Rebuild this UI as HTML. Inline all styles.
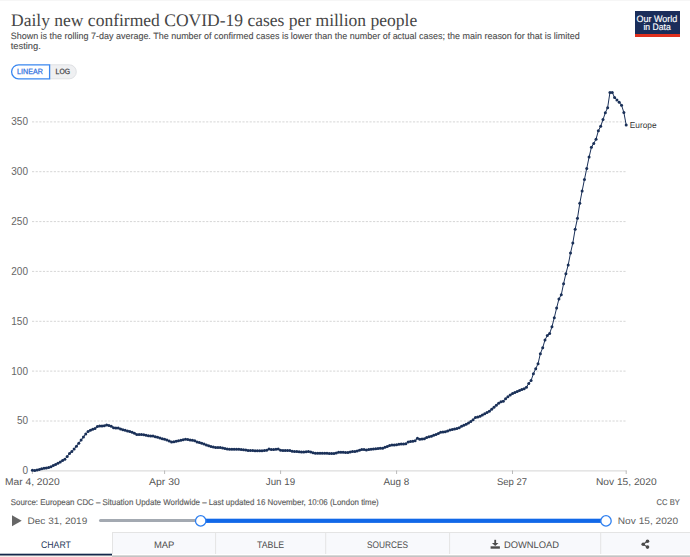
<!DOCTYPE html>
<html><head><meta charset="utf-8"><style>
html,body{margin:0;padding:0;background:#fff;}
body{width:690px;height:557px;overflow:hidden;position:relative;}
svg{position:absolute;left:0;top:0;}
text{text-rendering:geometricPrecision;}
.yl text{text-rendering:auto;}
</style></head><body>
<svg width="690" height="557" viewBox="0 0 690 557">
<rect x="0" y="0" width="690" height="1" fill="#f6f6f6"/>
<!-- toggle -->
<path d="M49.5,64.8 H69.3 a7,7 0 0 1 0,14 H49.5 Z" fill="#eff0f2" stroke="#dfe1e4" stroke-width="1"/>
<path d="M18.6,64.8 H49.6 V78.8 H18.6 a7,7 0 0 1 0,-14 Z" fill="#fff" stroke="#3a87f0" stroke-width="1.3"/>
<text x="17.1" y="74.4" font-family="'Liberation Sans', sans-serif" font-size="7.6" fill="#2f6fde" textLength="25.7" lengthAdjust="spacingAndGlyphs" stroke="#2f6fde" stroke-width="0.25">LINEAR</text>
<text x="55.6" y="74.4" font-family="'Liberation Sans', sans-serif" font-size="7.6" fill="#444" textLength="14.5" lengthAdjust="spacingAndGlyphs" stroke="#444" stroke-width="0.25">LOG</text>
<!-- logo -->
<rect x="635" y="11" width="45" height="26" fill="#1a2d5a"/>
<rect x="635" y="34" width="45" height="3" fill="#e0301e"/>
<g font-family="'Liberation Sans', sans-serif" font-size="9.3" fill="#fff" stroke="#fff" stroke-width="0.15" lengthAdjust="spacingAndGlyphs"><text x="636.6" y="21.5" textLength="40.7" lengthAdjust="spacingAndGlyphs">Our World</text><text x="643.4" y="30.4" textLength="27.3" lengthAdjust="spacingAndGlyphs">in Data</text></g>
<!-- chart -->
<g stroke="#d6d6d6" stroke-width="1" stroke-dasharray="2.2,1.428" fill="none"><line x1="32" x2="626" y1="421.0" y2="421.0"/><line x1="32" x2="626" y1="371.1" y2="371.1"/><line x1="32" x2="626" y1="321.3" y2="321.3"/><line x1="32" x2="626" y1="271.4" y2="271.4"/><line x1="32" x2="626" y1="221.6" y2="221.6"/><line x1="32" x2="626" y1="171.7" y2="171.7"/><line x1="32" x2="626" y1="121.9" y2="121.9"/></g>
<line x1="32.4" x2="626.5" y1="470.9" y2="470.9" stroke="#ddd" stroke-width="1.3"/>
<g stroke="#aaa" stroke-width="0.8"><line x1="32.4" x2="32.4" y1="470.5" y2="474"/><line x1="164.6" x2="164.6" y1="470.5" y2="474"/><line x1="280.6" x2="280.6" y1="470.5" y2="474"/><line x1="396.6" x2="396.6" y1="470.5" y2="474"/><line x1="512.5" x2="512.5" y1="470.5" y2="474"/><line x1="626.2" x2="626.2" y1="470.5" y2="474"/></g>
<g class="yl" font-family="'Liberation Sans', sans-serif" font-size="10" fill="#666" text-anchor="end"><text x="28" y="474.2">0</text><text x="28" y="424.4">50</text><text x="28" y="374.5">100</text><text x="28" y="324.7">150</text><text x="28" y="274.8">200</text><text x="28" y="225.0">250</text><text x="28" y="175.1">300</text><text x="28" y="125.3">350</text></g>
<path d="M32.40,470.24 L34.72,470.38 L37.04,470.12 L39.36,469.39 L41.68,468.86 L44.00,468.35 L46.32,468.00 L48.64,467.57 L50.96,466.79 L53.28,465.42 L55.59,464.54 L57.91,463.14 L60.23,461.93 L62.55,460.47 L64.87,459.18 L67.19,456.44 L69.51,453.50 L71.83,451.54 L74.15,448.93 L76.47,446.32 L78.79,443.21 L81.11,440.12 L83.43,436.95 L85.75,434.00 L88.07,431.59 L90.39,430.21 L92.71,429.21 L95.03,428.56 L97.35,426.50 L99.67,425.90 L101.99,425.90 L104.30,425.74 L106.62,424.93 L108.94,425.53 L111.26,426.35 L113.58,427.85 L115.90,428.10 L118.22,428.10 L120.54,428.97 L122.86,429.66 L125.18,430.31 L127.50,430.92 L129.82,431.49 L132.14,432.22 L134.46,433.14 L136.78,434.60 L139.10,434.60 L141.42,434.60 L143.74,434.71 L146.06,435.21 L148.38,435.65 L150.69,435.90 L153.01,435.93 L155.33,436.64 L157.65,437.31 L159.97,438.00 L162.29,438.79 L164.61,439.33 L166.93,440.05 L169.25,441.06 L171.57,442.01 L173.89,441.64 L176.21,441.23 L178.53,440.79 L180.85,440.21 L183.17,439.66 L185.49,439.30 L187.81,439.41 L190.13,440.07 L192.45,440.20 L194.77,440.71 L197.08,441.93 L199.40,442.55 L201.72,443.25 L204.04,444.08 L206.36,445.02 L208.68,445.77 L211.00,446.45 L213.32,447.10 L215.64,447.39 L217.96,447.50 L220.28,447.60 L222.60,448.11 L224.92,448.62 L227.24,449.03 L229.56,449.30 L231.88,449.30 L234.20,449.30 L236.52,449.30 L238.84,449.30 L241.16,449.54 L243.47,449.80 L245.79,450.03 L248.11,450.38 L250.43,450.50 L252.75,450.54 L255.07,450.68 L257.39,450.70 L259.71,450.70 L262.03,450.63 L264.35,450.50 L266.67,450.17 L268.99,449.12 L271.31,449.56 L273.63,449.60 L275.95,449.28 L278.27,449.05 L280.59,450.34 L282.91,450.40 L285.23,450.40 L287.55,450.40 L289.86,450.58 L292.18,451.17 L294.50,451.50 L296.82,451.55 L299.14,451.76 L301.46,451.97 L303.78,452.01 L306.10,451.79 L308.42,451.54 L310.74,451.96 L313.06,452.64 L315.38,453.20 L317.70,453.20 L320.02,453.20 L322.34,453.20 L324.66,453.21 L326.98,453.30 L329.30,453.38 L331.62,453.40 L333.94,453.40 L336.25,453.04 L338.57,452.30 L340.89,452.30 L343.21,452.32 L345.53,452.43 L347.85,452.39 L350.17,452.10 L352.49,451.59 L354.81,451.50 L357.13,451.05 L359.45,450.23 L361.77,449.51 L364.09,449.38 L366.41,449.88 L368.73,449.48 L371.05,449.17 L373.37,448.97 L375.69,448.83 L378.01,448.46 L380.32,448.20 L382.64,448.18 L384.96,447.32 L387.28,446.39 L389.60,445.55 L391.92,445.00 L394.24,445.00 L396.56,444.68 L398.88,444.28 L401.20,443.90 L403.52,443.90 L405.84,443.67 L408.16,442.04 L410.48,441.53 L412.80,441.30 L415.12,440.82 L417.44,438.34 L419.76,439.28 L422.08,439.05 L424.40,438.65 L426.71,437.60 L429.03,436.69 L431.35,436.24 L433.67,435.30 L435.99,434.50 L438.31,433.61 L440.63,432.35 L442.95,431.88 L445.27,431.64 L447.59,431.10 L449.91,429.94 L452.23,429.40 L454.55,429.01 L456.87,428.48 L459.19,427.70 L461.51,426.33 L463.83,425.31 L466.15,424.23 L468.47,422.95 L470.79,421.38 L473.11,419.69 L475.42,417.40 L477.74,416.97 L480.06,416.32 L482.38,415.10 L484.70,413.82 L487.02,412.61 L489.34,411.23 L491.66,409.36 L493.98,407.33 L496.30,405.19 L498.62,403.19 L500.94,401.75 L503.26,401.23 L505.58,398.83 L507.90,396.68 L510.22,395.06 L512.54,393.56 L514.86,392.48 L517.18,391.52 L519.50,390.51 L521.81,389.50 L524.13,388.77 L526.45,387.17 L528.77,383.58 L531.09,380.51 L533.41,373.74 L535.73,368.77 L538.05,363.67 L540.37,353.65 L542.69,347.82 L545.01,339.89 L547.33,335.59 L549.65,333.44 L551.97,326.80 L554.29,317.66 L556.61,308.11 L558.93,298.96 L561.25,294.83 L563.57,283.72 L565.88,273.66 L568.20,264.98 L570.52,253.06 L572.84,242.92 L575.16,229.13 L577.48,218.22 L579.80,203.24 L582.12,191.09 L584.44,179.50 L586.76,168.40 L589.08,157.10 L591.40,147.37 L593.72,143.50 L596.04,139.15 L598.36,130.77 L600.68,126.37 L603.00,119.59 L605.32,112.79 L607.64,107.68 L609.96,92.40 L612.27,92.40 L614.59,97.59 L616.91,99.91 L619.23,102.23 L621.55,105.26 L623.87,112.48 L626.19,125.00" fill="none" stroke="#1a3058" stroke-width="1.0" stroke-linejoin="round"/>
<g fill="#1a3058"><circle cx="32.40" cy="470.24" r="1.5"/><circle cx="34.72" cy="470.38" r="1.5"/><circle cx="37.04" cy="470.12" r="1.5"/><circle cx="39.36" cy="469.39" r="1.5"/><circle cx="41.68" cy="468.86" r="1.5"/><circle cx="44.00" cy="468.35" r="1.5"/><circle cx="46.32" cy="468.00" r="1.5"/><circle cx="48.64" cy="467.57" r="1.5"/><circle cx="50.96" cy="466.79" r="1.5"/><circle cx="53.28" cy="465.42" r="1.5"/><circle cx="55.59" cy="464.54" r="1.5"/><circle cx="57.91" cy="463.14" r="1.5"/><circle cx="60.23" cy="461.93" r="1.5"/><circle cx="62.55" cy="460.47" r="1.5"/><circle cx="64.87" cy="459.18" r="1.5"/><circle cx="67.19" cy="456.44" r="1.5"/><circle cx="69.51" cy="453.50" r="1.5"/><circle cx="71.83" cy="451.54" r="1.5"/><circle cx="74.15" cy="448.93" r="1.5"/><circle cx="76.47" cy="446.32" r="1.5"/><circle cx="78.79" cy="443.21" r="1.5"/><circle cx="81.11" cy="440.12" r="1.5"/><circle cx="83.43" cy="436.95" r="1.5"/><circle cx="85.75" cy="434.00" r="1.5"/><circle cx="88.07" cy="431.59" r="1.5"/><circle cx="90.39" cy="430.21" r="1.5"/><circle cx="92.71" cy="429.21" r="1.5"/><circle cx="95.03" cy="428.56" r="1.5"/><circle cx="97.35" cy="426.50" r="1.5"/><circle cx="99.67" cy="425.90" r="1.5"/><circle cx="101.99" cy="425.90" r="1.5"/><circle cx="104.30" cy="425.74" r="1.5"/><circle cx="106.62" cy="424.93" r="1.5"/><circle cx="108.94" cy="425.53" r="1.5"/><circle cx="111.26" cy="426.35" r="1.5"/><circle cx="113.58" cy="427.85" r="1.5"/><circle cx="115.90" cy="428.10" r="1.5"/><circle cx="118.22" cy="428.10" r="1.5"/><circle cx="120.54" cy="428.97" r="1.5"/><circle cx="122.86" cy="429.66" r="1.5"/><circle cx="125.18" cy="430.31" r="1.5"/><circle cx="127.50" cy="430.92" r="1.5"/><circle cx="129.82" cy="431.49" r="1.5"/><circle cx="132.14" cy="432.22" r="1.5"/><circle cx="134.46" cy="433.14" r="1.5"/><circle cx="136.78" cy="434.60" r="1.5"/><circle cx="139.10" cy="434.60" r="1.5"/><circle cx="141.42" cy="434.60" r="1.5"/><circle cx="143.74" cy="434.71" r="1.5"/><circle cx="146.06" cy="435.21" r="1.5"/><circle cx="148.38" cy="435.65" r="1.5"/><circle cx="150.69" cy="435.90" r="1.5"/><circle cx="153.01" cy="435.93" r="1.5"/><circle cx="155.33" cy="436.64" r="1.5"/><circle cx="157.65" cy="437.31" r="1.5"/><circle cx="159.97" cy="438.00" r="1.5"/><circle cx="162.29" cy="438.79" r="1.5"/><circle cx="164.61" cy="439.33" r="1.5"/><circle cx="166.93" cy="440.05" r="1.5"/><circle cx="169.25" cy="441.06" r="1.5"/><circle cx="171.57" cy="442.01" r="1.5"/><circle cx="173.89" cy="441.64" r="1.5"/><circle cx="176.21" cy="441.23" r="1.5"/><circle cx="178.53" cy="440.79" r="1.5"/><circle cx="180.85" cy="440.21" r="1.5"/><circle cx="183.17" cy="439.66" r="1.5"/><circle cx="185.49" cy="439.30" r="1.5"/><circle cx="187.81" cy="439.41" r="1.5"/><circle cx="190.13" cy="440.07" r="1.5"/><circle cx="192.45" cy="440.20" r="1.5"/><circle cx="194.77" cy="440.71" r="1.5"/><circle cx="197.08" cy="441.93" r="1.5"/><circle cx="199.40" cy="442.55" r="1.5"/><circle cx="201.72" cy="443.25" r="1.5"/><circle cx="204.04" cy="444.08" r="1.5"/><circle cx="206.36" cy="445.02" r="1.5"/><circle cx="208.68" cy="445.77" r="1.5"/><circle cx="211.00" cy="446.45" r="1.5"/><circle cx="213.32" cy="447.10" r="1.5"/><circle cx="215.64" cy="447.39" r="1.5"/><circle cx="217.96" cy="447.50" r="1.5"/><circle cx="220.28" cy="447.60" r="1.5"/><circle cx="222.60" cy="448.11" r="1.5"/><circle cx="224.92" cy="448.62" r="1.5"/><circle cx="227.24" cy="449.03" r="1.5"/><circle cx="229.56" cy="449.30" r="1.5"/><circle cx="231.88" cy="449.30" r="1.5"/><circle cx="234.20" cy="449.30" r="1.5"/><circle cx="236.52" cy="449.30" r="1.5"/><circle cx="238.84" cy="449.30" r="1.5"/><circle cx="241.16" cy="449.54" r="1.5"/><circle cx="243.47" cy="449.80" r="1.5"/><circle cx="245.79" cy="450.03" r="1.5"/><circle cx="248.11" cy="450.38" r="1.5"/><circle cx="250.43" cy="450.50" r="1.5"/><circle cx="252.75" cy="450.54" r="1.5"/><circle cx="255.07" cy="450.68" r="1.5"/><circle cx="257.39" cy="450.70" r="1.5"/><circle cx="259.71" cy="450.70" r="1.5"/><circle cx="262.03" cy="450.63" r="1.5"/><circle cx="264.35" cy="450.50" r="1.5"/><circle cx="266.67" cy="450.17" r="1.5"/><circle cx="268.99" cy="449.12" r="1.5"/><circle cx="271.31" cy="449.56" r="1.5"/><circle cx="273.63" cy="449.60" r="1.5"/><circle cx="275.95" cy="449.28" r="1.5"/><circle cx="278.27" cy="449.05" r="1.5"/><circle cx="280.59" cy="450.34" r="1.5"/><circle cx="282.91" cy="450.40" r="1.5"/><circle cx="285.23" cy="450.40" r="1.5"/><circle cx="287.55" cy="450.40" r="1.5"/><circle cx="289.86" cy="450.58" r="1.5"/><circle cx="292.18" cy="451.17" r="1.5"/><circle cx="294.50" cy="451.50" r="1.5"/><circle cx="296.82" cy="451.55" r="1.5"/><circle cx="299.14" cy="451.76" r="1.5"/><circle cx="301.46" cy="451.97" r="1.5"/><circle cx="303.78" cy="452.01" r="1.5"/><circle cx="306.10" cy="451.79" r="1.5"/><circle cx="308.42" cy="451.54" r="1.5"/><circle cx="310.74" cy="451.96" r="1.5"/><circle cx="313.06" cy="452.64" r="1.5"/><circle cx="315.38" cy="453.20" r="1.5"/><circle cx="317.70" cy="453.20" r="1.5"/><circle cx="320.02" cy="453.20" r="1.5"/><circle cx="322.34" cy="453.20" r="1.5"/><circle cx="324.66" cy="453.21" r="1.5"/><circle cx="326.98" cy="453.30" r="1.5"/><circle cx="329.30" cy="453.38" r="1.5"/><circle cx="331.62" cy="453.40" r="1.5"/><circle cx="333.94" cy="453.40" r="1.5"/><circle cx="336.25" cy="453.04" r="1.5"/><circle cx="338.57" cy="452.30" r="1.5"/><circle cx="340.89" cy="452.30" r="1.5"/><circle cx="343.21" cy="452.32" r="1.5"/><circle cx="345.53" cy="452.43" r="1.5"/><circle cx="347.85" cy="452.39" r="1.5"/><circle cx="350.17" cy="452.10" r="1.5"/><circle cx="352.49" cy="451.59" r="1.5"/><circle cx="354.81" cy="451.50" r="1.5"/><circle cx="357.13" cy="451.05" r="1.5"/><circle cx="359.45" cy="450.23" r="1.5"/><circle cx="361.77" cy="449.51" r="1.5"/><circle cx="364.09" cy="449.38" r="1.5"/><circle cx="366.41" cy="449.88" r="1.5"/><circle cx="368.73" cy="449.48" r="1.5"/><circle cx="371.05" cy="449.17" r="1.5"/><circle cx="373.37" cy="448.97" r="1.5"/><circle cx="375.69" cy="448.83" r="1.5"/><circle cx="378.01" cy="448.46" r="1.5"/><circle cx="380.32" cy="448.20" r="1.5"/><circle cx="382.64" cy="448.18" r="1.5"/><circle cx="384.96" cy="447.32" r="1.5"/><circle cx="387.28" cy="446.39" r="1.5"/><circle cx="389.60" cy="445.55" r="1.5"/><circle cx="391.92" cy="445.00" r="1.5"/><circle cx="394.24" cy="445.00" r="1.5"/><circle cx="396.56" cy="444.68" r="1.5"/><circle cx="398.88" cy="444.28" r="1.5"/><circle cx="401.20" cy="443.90" r="1.5"/><circle cx="403.52" cy="443.90" r="1.5"/><circle cx="405.84" cy="443.67" r="1.5"/><circle cx="408.16" cy="442.04" r="1.5"/><circle cx="410.48" cy="441.53" r="1.5"/><circle cx="412.80" cy="441.30" r="1.5"/><circle cx="415.12" cy="440.82" r="1.5"/><circle cx="417.44" cy="438.34" r="1.5"/><circle cx="419.76" cy="439.28" r="1.5"/><circle cx="422.08" cy="439.05" r="1.5"/><circle cx="424.40" cy="438.65" r="1.5"/><circle cx="426.71" cy="437.60" r="1.5"/><circle cx="429.03" cy="436.69" r="1.5"/><circle cx="431.35" cy="436.24" r="1.5"/><circle cx="433.67" cy="435.30" r="1.5"/><circle cx="435.99" cy="434.50" r="1.5"/><circle cx="438.31" cy="433.61" r="1.5"/><circle cx="440.63" cy="432.35" r="1.5"/><circle cx="442.95" cy="431.88" r="1.5"/><circle cx="445.27" cy="431.64" r="1.5"/><circle cx="447.59" cy="431.10" r="1.5"/><circle cx="449.91" cy="429.94" r="1.5"/><circle cx="452.23" cy="429.40" r="1.5"/><circle cx="454.55" cy="429.01" r="1.5"/><circle cx="456.87" cy="428.48" r="1.5"/><circle cx="459.19" cy="427.70" r="1.5"/><circle cx="461.51" cy="426.33" r="1.5"/><circle cx="463.83" cy="425.31" r="1.5"/><circle cx="466.15" cy="424.23" r="1.5"/><circle cx="468.47" cy="422.95" r="1.5"/><circle cx="470.79" cy="421.38" r="1.5"/><circle cx="473.11" cy="419.69" r="1.5"/><circle cx="475.42" cy="417.40" r="1.5"/><circle cx="477.74" cy="416.97" r="1.5"/><circle cx="480.06" cy="416.32" r="1.5"/><circle cx="482.38" cy="415.10" r="1.5"/><circle cx="484.70" cy="413.82" r="1.5"/><circle cx="487.02" cy="412.61" r="1.5"/><circle cx="489.34" cy="411.23" r="1.5"/><circle cx="491.66" cy="409.36" r="1.5"/><circle cx="493.98" cy="407.33" r="1.5"/><circle cx="496.30" cy="405.19" r="1.5"/><circle cx="498.62" cy="403.19" r="1.5"/><circle cx="500.94" cy="401.75" r="1.5"/><circle cx="503.26" cy="401.23" r="1.5"/><circle cx="505.58" cy="398.83" r="1.5"/><circle cx="507.90" cy="396.68" r="1.5"/><circle cx="510.22" cy="395.06" r="1.5"/><circle cx="512.54" cy="393.56" r="1.5"/><circle cx="514.86" cy="392.48" r="1.5"/><circle cx="517.18" cy="391.52" r="1.5"/><circle cx="519.50" cy="390.51" r="1.5"/><circle cx="521.81" cy="389.50" r="1.5"/><circle cx="524.13" cy="388.77" r="1.5"/><circle cx="526.45" cy="387.17" r="1.5"/><circle cx="528.77" cy="383.58" r="1.5"/><circle cx="531.09" cy="380.51" r="1.5"/><circle cx="533.41" cy="373.74" r="1.5"/><circle cx="535.73" cy="368.77" r="1.5"/><circle cx="538.05" cy="363.67" r="1.5"/><circle cx="540.37" cy="353.65" r="1.5"/><circle cx="542.69" cy="347.82" r="1.5"/><circle cx="545.01" cy="339.89" r="1.5"/><circle cx="547.33" cy="335.59" r="1.5"/><circle cx="549.65" cy="333.44" r="1.5"/><circle cx="551.97" cy="326.80" r="1.5"/><circle cx="554.29" cy="317.66" r="1.5"/><circle cx="556.61" cy="308.11" r="1.5"/><circle cx="558.93" cy="298.96" r="1.5"/><circle cx="561.25" cy="294.83" r="1.5"/><circle cx="563.57" cy="283.72" r="1.5"/><circle cx="565.88" cy="273.66" r="1.5"/><circle cx="568.20" cy="264.98" r="1.5"/><circle cx="570.52" cy="253.06" r="1.5"/><circle cx="572.84" cy="242.92" r="1.5"/><circle cx="575.16" cy="229.13" r="1.5"/><circle cx="577.48" cy="218.22" r="1.5"/><circle cx="579.80" cy="203.24" r="1.5"/><circle cx="582.12" cy="191.09" r="1.5"/><circle cx="584.44" cy="179.50" r="1.5"/><circle cx="586.76" cy="168.40" r="1.5"/><circle cx="589.08" cy="157.10" r="1.5"/><circle cx="591.40" cy="147.37" r="1.5"/><circle cx="593.72" cy="143.50" r="1.5"/><circle cx="596.04" cy="139.15" r="1.5"/><circle cx="598.36" cy="130.77" r="1.5"/><circle cx="600.68" cy="126.37" r="1.5"/><circle cx="603.00" cy="119.59" r="1.5"/><circle cx="605.32" cy="112.79" r="1.5"/><circle cx="607.64" cy="107.68" r="1.5"/><circle cx="609.96" cy="92.40" r="1.5"/><circle cx="612.27" cy="92.40" r="1.5"/><circle cx="614.59" cy="97.59" r="1.5"/><circle cx="616.91" cy="99.91" r="1.5"/><circle cx="619.23" cy="102.23" r="1.5"/><circle cx="621.55" cy="105.26" r="1.5"/><circle cx="623.87" cy="112.48" r="1.5"/><circle cx="626.19" cy="125.00" r="1.5"/></g>
<!-- footer -->
<path d="M12,515.2 L21.7,520.7 L12,526.2 Z" fill="#666"/>
<rect x="99" y="519.1" width="105" height="3" rx="1.5" fill="#a3a9b1"/>
<rect x="200" y="518.7" width="406" height="4.2" fill="#1168e8"/>
<circle cx="200.7" cy="520.9" r="5.2" fill="#fff" stroke="#2d7ff0" stroke-width="1.3"/>
<circle cx="606" cy="520.9" r="5.2" fill="#fff" stroke="#2d7ff0" stroke-width="1.3"/>
<!-- tabs -->
<rect x="112.5" y="532.5" width="578" height="22" fill="#f8f9fc" stroke="#e4e4e4" stroke-width="1"/>
<g stroke="#e4e4e4" stroke-width="1"><line x1="215.6" x2="215.6" y1="532.5" y2="554"/><line x1="325.7" x2="325.7" y1="532.5" y2="554"/><line x1="449.6" x2="449.6" y1="532.5" y2="554"/><line x1="600.7" x2="600.7" y1="532.5" y2="554"/></g>
<rect x="112" y="554" width="578" height="1" fill="#fff"/>
<rect x="112" y="555" width="578" height="1" fill="#d8d8d8"/>
<rect x="112" y="556" width="578" height="1" fill="#c4c4c4"/>
<rect x="0" y="553.7" width="112" height="2" fill="#13294b"/>
<rect x="0" y="555.7" width="112" height="1.3" fill="#f7f1ec"/>
<g fill="#4a4a4a"><rect x="494.3" y="539.8" width="1.8" height="3.4"/><path d="M491.9,542.9 L498.5,542.9 L495.2,546.0 Z"/><rect x="490.6" y="546.3" width="9.3" height="2.4"/></g>
<g fill="#4a4a4a"><circle cx="643.2" cy="544.2" r="1.8"/><circle cx="647.5" cy="541.3" r="1.8"/><circle cx="647.5" cy="547.1" r="1.8"/></g><g stroke="#4a4a4a" stroke-width="1.1"><line x1="643.2" y1="544.2" x2="647.5" y2="541.3"/><line x1="643.2" y1="544.2" x2="647.5" y2="547.1"/></g>
<text id="t0" x="11.00" y="25.6" font-family="'Liberation Serif', serif" font-size="17.6" font-weight="normal" fill="#464646" textLength="406.20" lengthAdjust="spacingAndGlyphs">Daily new confirmed COVID-19 cases per million people</text>
<text id="t1" x="10.70" y="38.7" font-family="'Liberation Sans', sans-serif" font-size="9.2" font-weight="normal" fill="#4a4a4a" stroke="#4a4a4a" stroke-width="0.1" textLength="569.00" lengthAdjust="spacingAndGlyphs">Shown is the rolling 7-day average. The number of confirmed cases is lower than the number of actual cases; the main reason for that is limited</text>
<text id="t2" x="10.70" y="49.4" font-family="'Liberation Sans', sans-serif" font-size="9.2" font-weight="normal" fill="#4a4a4a" stroke="#4a4a4a" stroke-width="0.1" textLength="30.10" lengthAdjust="spacingAndGlyphs">testing.</text>
<text id="t3" x="10.80" y="504.8" font-family="'Liberation Sans', sans-serif" font-size="8.4" font-weight="normal" fill="#5c5c5c" stroke="#5c5c5c" stroke-width="0.15" textLength="367.90" lengthAdjust="spacingAndGlyphs">Source: European CDC – Situation Update Worldwide – Last updated 16 November, 10:06 (London time)</text>
<text id="t4" x="656.60" y="504.6" font-family="'Liberation Sans', sans-serif" font-size="8.4" font-weight="normal" fill="#5c5c5c" stroke="#5c5c5c" stroke-width="0.15" textLength="23.20" lengthAdjust="spacingAndGlyphs">CC BY</text>
<text id="t5" x="27.50" y="524.1" font-family="'Liberation Sans', sans-serif" font-size="9.4" font-weight="normal" fill="#5f5f5f" textLength="59.80" lengthAdjust="spacingAndGlyphs">Dec 31, 2019</text>
<text id="t6" x="617.80" y="524.0" font-family="'Liberation Sans', sans-serif" font-size="9.4" font-weight="normal" fill="#5f5f5f" textLength="60.30" lengthAdjust="spacingAndGlyphs">Nov 15, 2020</text>
<text id="t7" x="40.90" y="548.2" font-family="'Liberation Sans', sans-serif" font-size="9.5" font-weight="normal" fill="#283a5c" textLength="30.10" lengthAdjust="spacingAndGlyphs">CHART</text>
<text id="t8" x="153.90" y="548.0" font-family="'Liberation Sans', sans-serif" font-size="9.5" font-weight="normal" fill="#4d4d4d" textLength="20.50" lengthAdjust="spacingAndGlyphs">MAP</text>
<text id="t9" x="257.00" y="548.0" font-family="'Liberation Sans', sans-serif" font-size="9.5" font-weight="normal" fill="#4d4d4d" textLength="27.10" lengthAdjust="spacingAndGlyphs">TABLE</text>
<text id="t10" x="366.90" y="548.0" font-family="'Liberation Sans', sans-serif" font-size="9.5" font-weight="normal" fill="#4d4d4d" textLength="41.10" lengthAdjust="spacingAndGlyphs">SOURCES</text>
<text id="t11" x="503.90" y="548.0" font-family="'Liberation Sans', sans-serif" font-size="9.5" font-weight="normal" fill="#4d4d4d" textLength="55.00" lengthAdjust="spacingAndGlyphs">DOWNLOAD</text>
<text id="t12" x="629.80" y="127.7" font-family="'Liberation Sans', sans-serif" font-size="8.6" font-weight="normal" fill="#333" textLength="26.70" lengthAdjust="spacingAndGlyphs">Europe</text>
<text id="t13" x="4.90" y="485.0" font-family="'Liberation Sans', sans-serif" font-size="9.8" font-weight="normal" fill="#555" textLength="54.80" lengthAdjust="spacingAndGlyphs">Mar 4, 2020</text>
<text id="t14" x="149.10" y="485.0" font-family="'Liberation Sans', sans-serif" font-size="9.8" font-weight="normal" fill="#555" textLength="30.70" lengthAdjust="spacingAndGlyphs">Apr 30</text>
<text id="t15" x="265.80" y="485.0" font-family="'Liberation Sans', sans-serif" font-size="9.8" font-weight="normal" fill="#555" textLength="29.30" lengthAdjust="spacingAndGlyphs">Jun 19</text>
<text id="t16" x="383.50" y="485.0" font-family="'Liberation Sans', sans-serif" font-size="9.8" font-weight="normal" fill="#555" textLength="25.80" lengthAdjust="spacingAndGlyphs">Aug 8</text>
<text id="t17" x="497.00" y="485.0" font-family="'Liberation Sans', sans-serif" font-size="9.8" font-weight="normal" fill="#555" textLength="30.10" lengthAdjust="spacingAndGlyphs">Sep 27</text>
<text id="t18" x="596.00" y="485.0" font-family="'Liberation Sans', sans-serif" font-size="9.8" font-weight="normal" fill="#555" textLength="60.60" lengthAdjust="spacingAndGlyphs">Nov 15, 2020</text>

</svg>
</body></html>
